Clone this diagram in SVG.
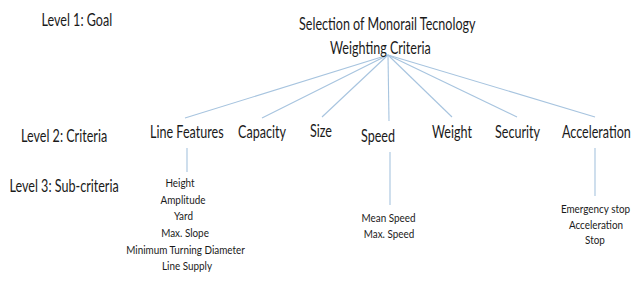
<svg xmlns="http://www.w3.org/2000/svg" width="640" height="285" viewBox="0 0 640 285">
<style>
text{font-family:Lato,"Open Sans","Liberation Sans",sans-serif;fill:#1a1a1a}
.l{font-size:17px}
.s{font-size:11.5px;text-anchor:middle}
.c line{stroke:#a7c4df;stroke-width:1.1}
</style>
<rect width="640" height="285" fill="#fff"/>
<g id="levels">
<text class="l" transform="translate(41.5,26) scale(0.74,1)">Level 1: Goal</text>
<text class="l" transform="translate(21,142) scale(0.74,1)">Level 2: Criteria</text>
<text class="l" transform="translate(9.5,192) scale(0.74,1)">Level 3: Sub-criteria</text>
</g>
<g class="c" id="connectors">
<line x1="388" y1="55" x2="185" y2="118"/>
<line x1="388" y1="55" x2="262" y2="118"/>
<line x1="388" y1="55" x2="322" y2="117"/>
<line x1="388" y1="55" x2="389" y2="121"/>
<line x1="388" y1="55" x2="452" y2="117"/>
<line x1="388" y1="55" x2="517" y2="117"/>
<line x1="388" y1="55" x2="595" y2="117"/>
<line x1="187" y1="148" x2="187" y2="172"/>
<line x1="390" y1="152" x2="390" y2="205"/>
<line x1="595" y1="148" x2="595" y2="196"/>
</g>
<g id="goal">
<text class="l" transform="translate(299,30) scale(0.74,1)">Selection of Monorail Tecnology</text>
<text class="l" transform="translate(330,54) scale(0.74,1)">Weighting Criteria</text>
</g>
<g id="line-features"><text class="l" transform="translate(150,138) scale(0.74,1)">Line Features</text></g>
<g id="capacity"><text class="l" transform="translate(238,138) scale(0.74,1)">Capacity</text></g>
<g id="size"><text class="l" transform="translate(310,137) scale(0.74,1)">Size</text></g>
<g id="speed"><text class="l" transform="translate(361,142) scale(0.74,1)">Speed</text></g>
<g id="weight"><text class="l" transform="translate(432,138) scale(0.74,1)">Weight</text></g>
<g id="security"><text class="l" transform="translate(495,138) scale(0.74,1)">Security</text></g>
<g id="acceleration"><text class="l" transform="translate(562,138) scale(0.74,1)">Acceleration</text></g>
<g id="line-features-sub">
<text class="s" transform="translate(180,187) scale(0.86,1)">Height</text>
<text class="s" transform="translate(183,203.5) scale(0.86,1)">Amplitude</text>
<text class="s" transform="translate(183.5,220) scale(0.86,1)">Yard</text>
<text class="s" transform="translate(185,237) scale(0.86,1)">Max. Slope</text>
<text class="s" transform="translate(185.5,253.5) scale(0.86,1)">Minimum Turning Diameter</text>
<text class="s" transform="translate(187,270) scale(0.86,1)">Line Supply</text>
</g>
<g id="speed-sub">
<text class="s" transform="translate(388.5,222) scale(0.86,1)">Mean Speed</text>
<text class="s" transform="translate(389,238) scale(0.86,1)">Max. Speed</text>
</g>
<g id="acceleration-sub">
<text class="s" transform="translate(595.5,213) scale(0.86,1)">Emergency stop</text>
<text class="s" transform="translate(596,228.5) scale(0.86,1)">Acceleration</text>
<text class="s" transform="translate(595,244) scale(0.86,1)">Stop</text>
</g>
</svg>
